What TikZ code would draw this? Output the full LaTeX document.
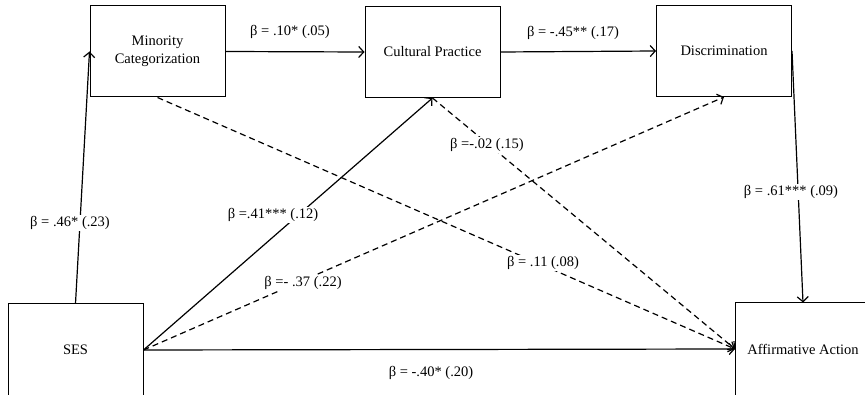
\documentclass[tikz,border=0pt]{standalone}
\usepackage{fontspec}
\setmainfont{Liberation Serif}
\usetikzlibrary{arrows.meta}
\begin{document}
\begin{tikzpicture}[x=1pt,y=-1pt,
  box/.style={draw, line width=1pt, minimum width=135pt, minimum height=91pt, inner sep=0pt, align=center, font=\fontsize{14.5}{18}\selectfont},
  lbl/.style={fill=white, inner sep=1.5pt, font=\fontsize{14.5}{18}\selectfont},
  conn/.style={line width=1.2pt, -{Straight Barb[length=5pt,width=11pt,line width=1.2pt]}},
  dashc/.style={conn, dash pattern=on 6pt off 4pt}]
\useasboundingbox (0,0) rectangle (865,395);
\node[box] (min) at (157.5,51.5) {Minority\\Categorization};
\node[box] (cult) at (432.5,52) {Cultural Practice};
\node[box] (disc) at (724,51) {Discrimination};
\node[box, minimum height=92pt] (ses) at (75.5,350) {SES};
\node[box, minimum height=92pt] (aff) at (803,349) {Affirmative Action};
% connectors
\draw[conn] (ses.north) -- (min.west);
\draw[conn] (min.east) -- (cult.west);
\draw[conn] (cult.east) -- (disc.west);
\draw[conn] (disc.east) -- (aff.north);
\draw[conn] (ses.east) -- (cult.south);
\draw[dashc] (ses.east) -- (disc.south);
\draw[conn] (ses.east) -- (aff.west);
\draw[dashc] (min.south) -- (aff.west);
\draw[dashc] (cult.south) -- (aff.west);
% labels
\node[lbl] (l1) at (70,223) {β = .46* (.23)};
\node[lbl] (l2) at (290,32) {β = .10* (.05)};
\node[lbl] (l3) at (573,33) {β = -.45** (.17)};
\node[lbl] (l4) at (273,215) {β =.41*** (.12)};
\node[lbl] (l5) at (303,283) {β =- .37 (.22)};
\node[lbl] (l6) at (487,145) {β =-.02 (.15)};
\node[lbl] (l7) at (791,192) {β = .61*** (.09)};
\node[lbl] (l8) at (543,263) {β = .11 (.08)};
\node[lbl] (l9) at (431,373) {β = -.40* (.20)};
\end{tikzpicture}
\end{document}
